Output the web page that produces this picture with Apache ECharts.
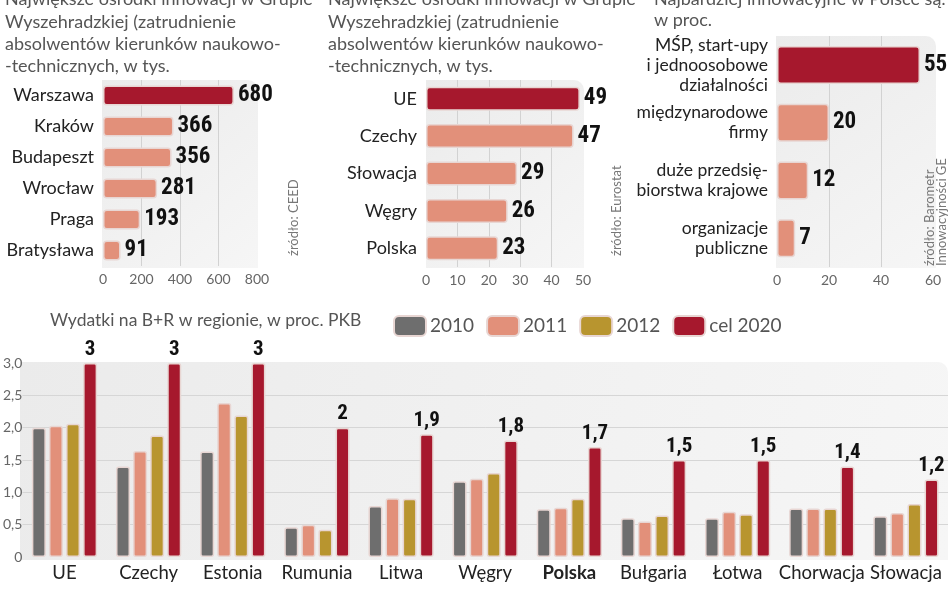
<!DOCTYPE html>
<html>
<head>
<meta charset="utf-8">
<script src="https://cdn.jsdelivr.net/npm/echarts@6/dist/echarts.min.js"></script>
<style>
  html, body { margin: 0; padding: 0; background: #fff; }
  #main { width: 948px; height: 593px; }
</style>
</head>
<body>
<div id="main"></div>
<script>
// panel 1: ośrodki innowacji (tys.)
const cities = ['Warszawa', 'Kraków', 'Budapeszt', 'Wrocław', 'Praga', 'Bratysława'];
const cityValues = [680, 366, 356, 281, 193, 91];
// panel 2: kraje
const countriesTop = ['UE', 'Czechy', 'Słowacja', 'Węgry', 'Polska'];
const countryValues = [49, 47, 29, 26, 23];
// panel 3: najbardziej innowacyjne
const actors = ['MŚP, start-upy\ni jednoosobowe\ndziałalności', 'międzynarodowe\nfirmy', 'duże przedsię-\nbiorstwa krajowe', 'organizacje\npubliczne'];
const actorValues = [55, 20, 12, 7];
// wydatki na B+R, % PKB
const regions = ['UE', 'Czechy', 'Estonia', 'Rumunia', 'Litwa', 'Węgry', 'Polska', 'Bułgaria', 'Łotwa', 'Chorwacja', 'Słowacja'];
const rd2010 = [2.00, 1.40, 1.63, 0.46, 0.79, 1.17, 0.74, 0.60, 0.60, 0.75, 0.63];
const rd2011 = [2.03, 1.64, 2.38, 0.50, 0.91, 1.21, 0.76, 0.55, 0.70, 0.75, 0.68];
const rd2012 = [2.06, 1.88, 2.19, 0.42, 0.90, 1.30, 0.90, 0.64, 0.66, 0.75, 0.82];
const rdTarget = [3, 3, 3, 2, 1.9, 1.8, 1.7, 1.5, 1.5, 1.4, 1.2];

const RED = '#a6182d', SALMON = '#e2907a', GOLD = '#b8952f', GREY = '#6e6e6e';
const FONT = 'Lato';
const NUMFONT = '"Noto Sans Condensed", "Noto Sans ExtraCondensed", "Roboto Condensed", "DejaVu Sans Condensed"';
const BORDER = '#e8d6d3';

const chart = echarts.init(document.getElementById('main'));

const panelBg = (x, y, w, h) => ({
    type: 'rect', z: -10,
    shape: { x: x, y: y, width: w, height: h, r: [0, 10, 0, 0] },
    style: {
        fill: new echarts.graphic.LinearGradient(0, 0, 1, 1, [
            { offset: 0, color: '#ebebeb' },
            { offset: 1, color: '#f6f6f6' }
        ])
    }
});
const txt = (x, y, s, size) => ({
    type: 'text', x: x, y: y,
    style: { text: s, fill: '#555', font: (size || 18) + 'px ' + FONT, textVerticalAlign: 'middle' }
});
// rotated source note, starts at the bottom and reads upwards
const vtxt = (x, y, s) => ({
    type: 'text', x: x, y: y, rotation: Math.PI / 2,
    style: { text: s, fill: '#777', font: '13px ' + FONT, textAlign: 'left', textVerticalAlign: 'middle', lineHeight: 12 }
});

const hColor = (p) => p.dataIndex === 0 ? RED : SALMON;
const hSeries = (idx, data, bw) => ({
    type: 'bar', xAxisIndex: idx, yAxisIndex: idx, data: data, barWidth: bw,
    itemStyle: { color: hColor, borderColor: BORDER, borderWidth: 1.5, borderRadius: 3 },
    label: { show: true, position: 'right', distance: 4, color: '#111', fontFamily: NUMFONT, fontWeight: 'bold', fontSize: 23 }
});
const hX = (idx, max, interval, n) => ({
    type: 'value', gridIndex: idx, min: 0, max: max, interval: interval,
    axisLine: { show: false }, axisTick: { show: false },
    axisLabel: { color: '#666', fontSize: 14, fontFamily: FONT, margin: 6 },
    splitLine: { lineStyle: { color: ['transparent'].concat(Array(n - 2).fill('#d2d2d2'), ['transparent']) } }
});
const hY = (idx, cats, size, lh) => ({
    type: 'category', gridIndex: idx, data: cats, inverse: true,
    axisLine: { show: false }, axisTick: { show: false },
    axisLabel: { color: '#222', fontSize: size, fontFamily: FONT, margin: 9, lineHeight: lh || 21 }
});

const vLabel = (p) => String(p.value).replace('.', ',');
const vSeries = (name, data, color, label) => ({
    name: name, type: 'bar', xAxisIndex: 3, yAxisIndex: 3, data: data,
    barWidth: 14, barGap: '22%',
    itemStyle: { color: color, borderColor: BORDER, borderWidth: 1.5, borderRadius: 2 },
    label: label ? { show: true, position: 'top', distance: 3, formatter: vLabel, color: '#111', fontFamily: NUMFONT, fontWeight: 'bold', fontSize: 21 } : { show: false }
});

chart.setOption({
    animation: false,
    textStyle: { fontFamily: FONT },
    graphic: [
        panelBg(102, 80, 156, 188),
        panelBg(426, 80, 158, 188),
        panelBg(776, 36, 160, 232),
        panelBg(20, 362, 928, 198),
        txt(5, -1, 'Największe ośrodki innowacji w Grupie'),
        txt(5, 22, 'Wyszehradzkiej (zatrudnienie'),
        txt(5, 44, 'absolwentów kierunków naukowo-'),
        txt(5, 66, '-technicznych, w tys.'),
        txt(328, -1, 'Największe ośrodki innowacji w Grupie'),
        txt(328, 22, 'Wyszehradzkiej (zatrudnienie'),
        txt(328, 44, 'absolwentów kierunków naukowo-'),
        txt(328, 66, '-technicznych, w tys.'),
        txt(654, -1, 'Najbardziej innowacyjne w Polsce są:'),
        txt(654, 20, 'w proc.'),
        txt(50, 320, 'Wydatki na B+R w regionie, w proc. PKB', 17.5),
        vtxt(294, 256, 'źródło: CEED'),
        vtxt(617, 256, 'źródło: Eurostat'),
        vtxt(936, 266, 'źródło: Barometr\nInnowacyjności GE')
    ],
    legend: {
        left: 388, top: 310, itemWidth: 32, itemHeight: 20, itemGap: 12,
        icon: 'roundRect',
        textStyle: { color: '#555', fontSize: 19, fontFamily: FONT, padding: [0, 0, 0, -1] },
        data: ['2010', '2011', '2012', 'cel 2020']
    },
    grid: [
        { left: 103, top: 80, width: 154, height: 186 },
        { left: 426, top: 80, width: 157, height: 187 },
        { left: 777, top: 36, width: 156, height: 231 },
        { left: 17, top: 363, right: 0, height: 194 }
    ],
    xAxis: [
        hX(0, 800, 200, 5),
        hX(1, 50, 10, 6),
        hX(2, 60, 20, 4),
        {
            type: 'category', gridIndex: 3, data: regions,
            axisLine: { show: false }, axisTick: { show: false },
            axisLabel: {
                color: '#222', fontSize: 18.5, fontFamily: FONT, margin: 7, interval: 0,
                formatter: (v) => v === 'Polska' ? '{b|' + v + '}' : v,
                rich: { b: { fontWeight: 'bold', fontSize: 18.5, color: '#222', fontFamily: FONT } }
            }
        }
    ],
    yAxis: [
        hY(0, cities, 18),
        hY(1, countriesTop, 18),
        hY(2, actors, 17.5, 20),
        {
            type: 'value', gridIndex: 3, min: 0, max: 3, interval: 0.5,
            axisLine: { show: false }, axisTick: { show: false },
            axisLabel: {
                color: '#666', fontSize: 14, fontFamily: FONT, margin: 0,
                formatter: (v) => v === 0 ? '0' : v.toFixed(1).replace('.', ',')
            },
            splitLine: { lineStyle: { color: ['transparent', '#d6d6d6', '#d6d6d6', '#d6d6d6', '#d6d6d6', '#d6d6d6', 'transparent'] } }
        }
    ],
    series: [
        hSeries(0, cityValues, 20),
        hSeries(1, countryValues, 24),
        hSeries(2, actorValues, 38),
        vSeries('2010', rd2010, GREY, false),
        vSeries('2011', rd2011, SALMON, false),
        vSeries('2012', rd2012, GOLD, false),
        vSeries('cel 2020', rdTarget, RED, true)
    ]
});
</script>
</body>
</html>
